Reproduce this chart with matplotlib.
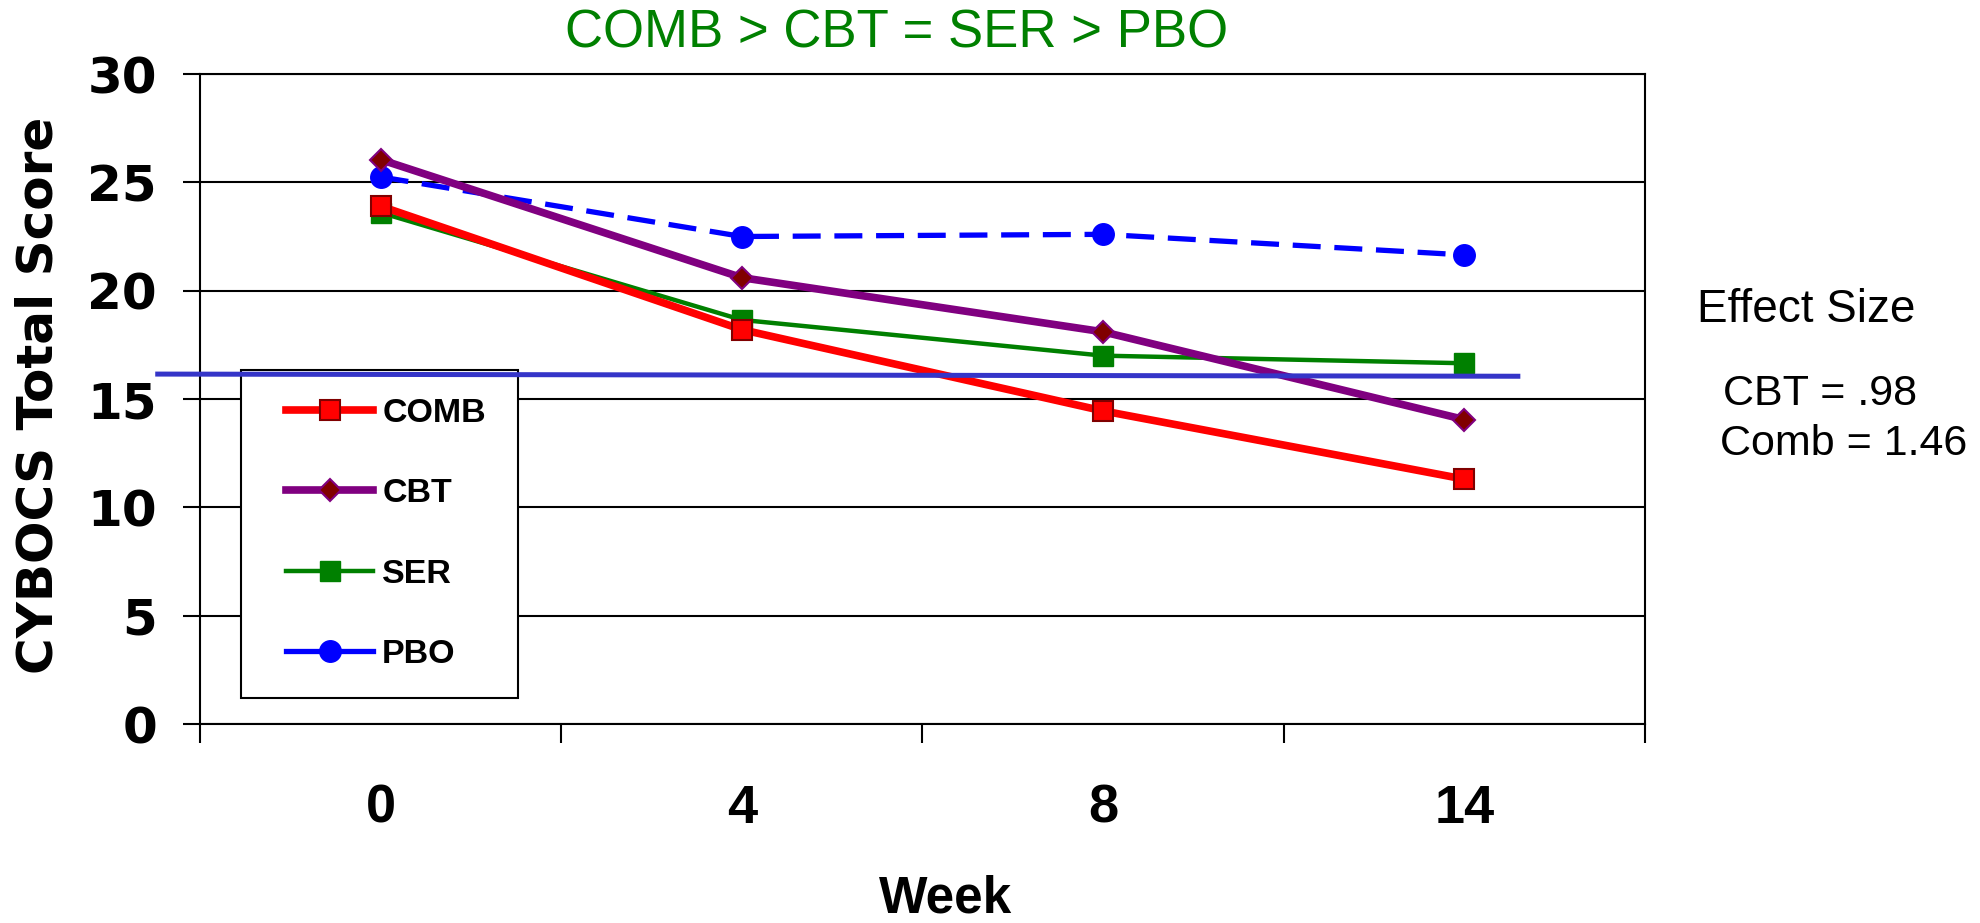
import matplotlib
matplotlib.use('Agg')
import matplotlib.pyplot as plt
from matplotlib.ticker import FixedLocator
from matplotlib.lines import Line2D
from matplotlib.legend_handler import HandlerLine2D

# data
weeks = ['0', '4', '8', '14']
comb = [23.9, 18.2, 14.45, 11.3]
cbt = [26.05, 20.6, 18.1, 14.05]
ser = [23.6, 18.65, 17.0, 16.65]
pbo = [25.25, 22.5, 22.6, 21.65]
threshold = [16.15, 16.05]
effect_lines = ['CBT = .98', 'Comb = 1.46']

fig = plt.figure(figsize=(19.81, 9.23), dpi=100)
ax = fig.add_axes([200/1981, 1 - 724/923, 1445/1981, 650/923])

x = range(len(weeks))
ax.plot(x, comb, color='red', lw=5.5, marker='s', ms=15, mfc='red', mec='#800000', mew=1.5,
        label='COMB', zorder=4)
ax.plot(x, cbt, color='#800080', lw=5.5, marker='D', ms=11.5, mfc='#800000', mec='#800080', mew=1.5,
        label='CBT', zorder=4)
ax.plot(x, ser, color='#008000', lw=3.2, marker='s', ms=15, mfc='#008000', mec='#008000',
        label='SER', zorder=3)
ax.plot(x, pbo, color='blue', lw=3.8, ls=(0, (5.3, 2.6)), marker='o', ms=15.5, mfc='blue', mec='blue',
        label='PBO', zorder=3)

# reference line, runs a bit past the left spine
ax.plot([-0.617, 3.148], threshold, color='#3535C8', lw=3.6, clip_on=False, zorder=7)

ax.set_xlim(-0.5, 3.5)
ax.set_ylim(0, 30)
ax.set_yticks(range(0, 31, 5))
ax.set_xticks(list(x))
ax.set_xticklabels(weeks)
ax.xaxis.set_minor_locator(FixedLocator([-0.5, 0.5, 1.5, 2.5, 3.5]))
ax.tick_params(axis='x', which='major', length=0, pad=43)
ax.tick_params(axis='x', which='minor', length=14, width=1.5, direction='out')
ax.tick_params(axis='y', length=12, width=1.5, direction='out', pad=19)
for lab in ax.get_xticklabels():
    lab.set_fontfamily('Liberation Sans')
    lab.set_fontweight('bold')
    lab.set_fontsize(39)
for lab in ax.get_yticklabels():
    lab.set_fontfamily('DejaVu Sans')
    lab.set_fontweight('bold')
    lab.set_fontsize(36)

ax.grid(axis='y', color='black', lw=1.5, zorder=0)
ax.set_axisbelow(True)
for s in ax.spines.values():
    s.set_linewidth(1.5)
    s.set_color('black')

ax.set_ylabel('CYBOCS Total Score', fontfamily='DejaVu Sans', fontweight='bold', fontsize=36)
ax.yaxis.set_label_coords(-0.112, 0.506)
ax.yaxis.label.set_verticalalignment('center')
ax.set_xlabel('Week', fontfamily='Liberation Sans', fontweight='bold', fontsize=37)
ax.xaxis.set_label_coords(0.516, -0.269)
ax.xaxis.label.set_verticalalignment('center')

leg = ax.legend(loc='upper left', bbox_to_anchor=(241/1981, 1 - 695/923, 277/1981, 325/923),
                bbox_transform=fig.transFigure, mode='expand', fancybox=False, framealpha=1,
                edgecolor='black', prop={'family': 'Liberation Sans', 'weight': 'bold', 'size': 24.5},
                handlelength=3.07, handletextpad=0.26, labelspacing=1.45, borderpad=0.82,
                borderaxespad=0, handler_map={Line2D: HandlerLine2D(xpad=0.5)})
leg.get_frame().set_linewidth(1.5)
leg.set_zorder(5)
leg.get_lines()[3].set_linestyle('-')

fig.text(897/1981, 1 - 48/923, 'COMB > CBT = SER > PBO', color='#008000', fontsize=38,
         fontfamily='Liberation Sans', ha='center', va='baseline')
fig.text(1697/1981, 1 - 322/923, 'Effect Size', fontsize=33, fontfamily='Liberation Sans',
         ha='left', va='baseline')
fig.text(1723/1981, 1 - 405/923, effect_lines[0], fontsize=31, fontfamily='Liberation Sans',
         ha='left', va='baseline')
fig.text(1720/1981, 1 - 455/923, effect_lines[1], fontsize=31, fontfamily='Liberation Sans',
         ha='left', va='baseline')

fig.savefig('out.png', dpi=100)
